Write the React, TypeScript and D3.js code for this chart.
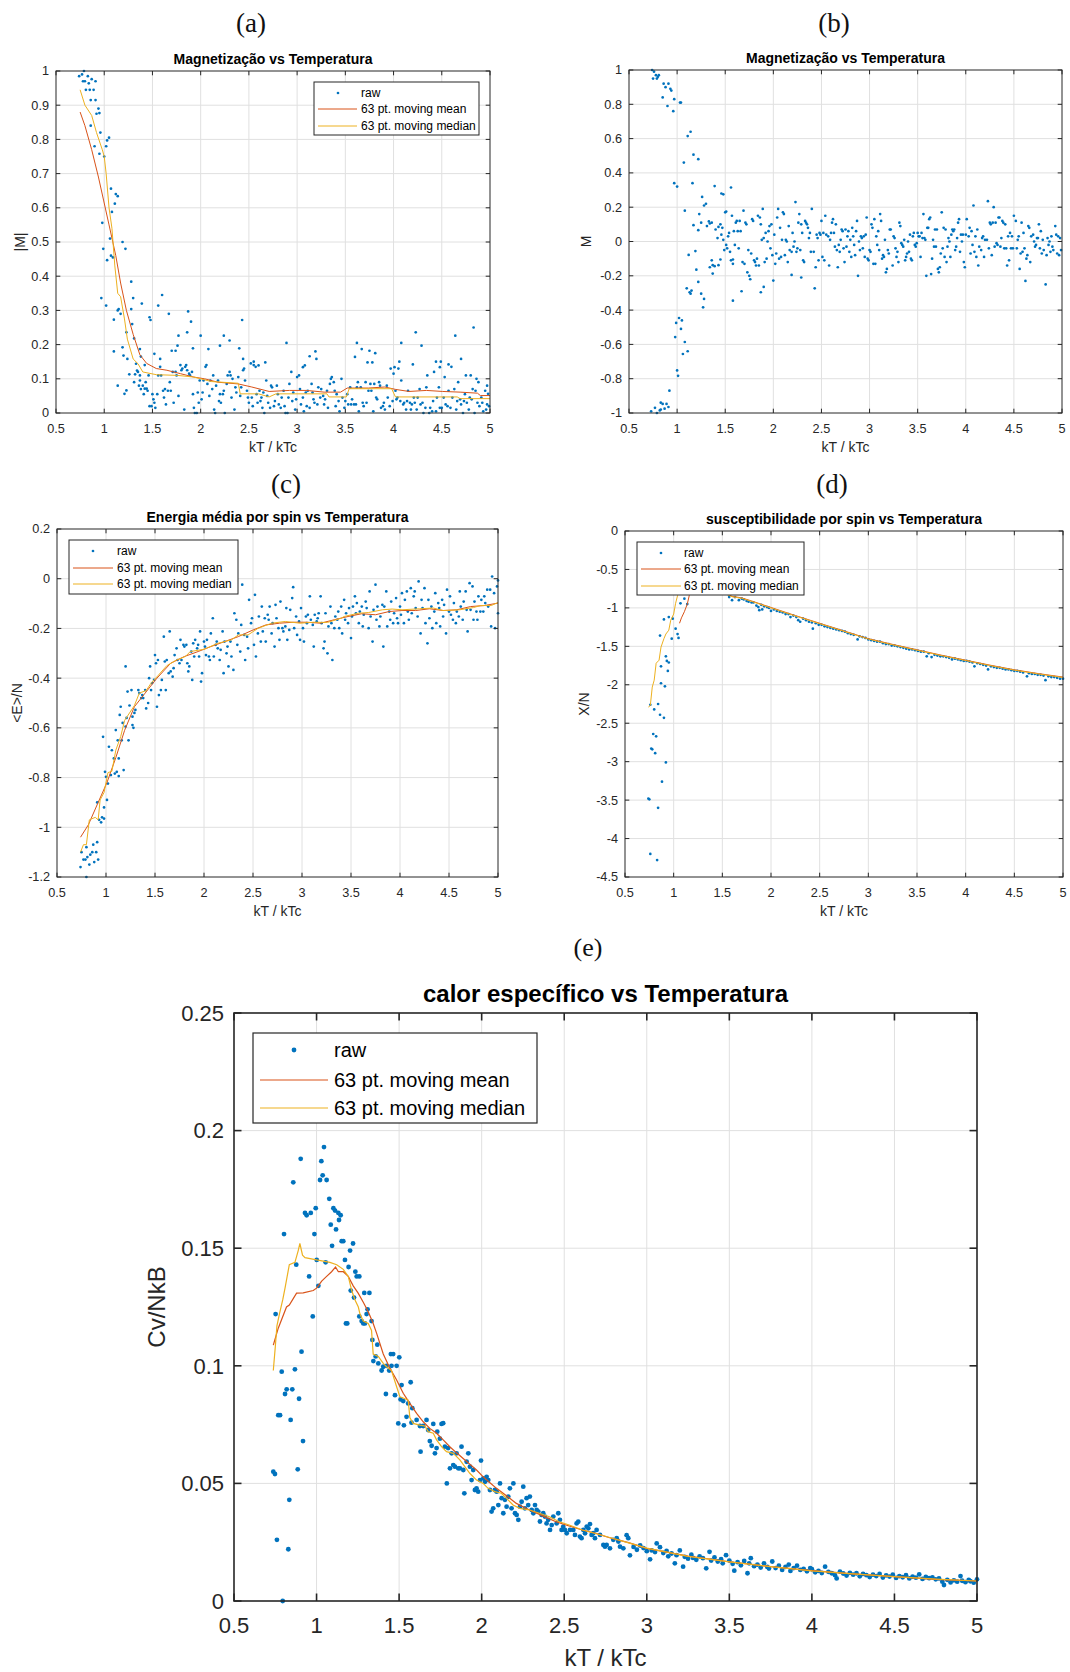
import React from 'react';
import * as d3 from 'd3';

type Pt = [number, number];

// ---------- shared ----------
const tempTicks = [0.5, 1, 1.5, 2, 2.5, 3, 3.5, 4, 4.5, 5];
const legendLabels = ['raw', '63 pt. moving mean', '63 pt. moving median'];

// ---------- (a) |M| ----------
const absMagTicks = [0, 0.1, 0.2, 0.3, 0.4, 0.5, 0.6, 0.7, 0.8, 0.9, 1];
const absMagRaw: Pt[] = [
  [0.74, 0.985], [0.77, 0.99], [0.79, 1.0], [0.83, 0.985], [0.78, 0.97], [0.8, 0.97], [0.84, 0.964], [0.87, 0.976],
  [0.91, 0.97], [0.81, 0.945], [0.85, 0.945], [0.89, 0.945], [0.86, 0.915], [0.91, 0.915], [0.94, 0.89], [0.92, 0.875],
  [0.95, 0.877], [0.86, 0.84], [0.96, 0.82], [0.9, 0.78], [1.02, 0.78], [1.05, 0.805], [1.03, 0.797], [0.95, 0.758],
  [1.0, 0.75], [1.07, 0.656], [1.12, 0.64], [1.14, 0.634], [1.11, 0.612], [1.08, 0.588], [0.98, 0.556], [1.06, 0.51],
  [1.19, 0.5], [1.22, 0.48], [0.99, 0.48], [1.07, 0.46], [1.09, 0.455], [1.03, 0.447], [1.28, 0.384], [0.97, 0.336],
  [1.3, 0.336], [1.02, 0.314], [1.39, 0.32], [1.14, 0.3], [1.15, 0.304], [1.17, 0.29], [1.28, 0.304], [1.1, 0.273],
  [1.29, 0.26], [1.23, 0.236], [1.31, 0.218], [1.19, 0.192], [1.1, 0.18], [1.37, 0.187],
  [1.14, 0.08], [1.2, 0.168], [1.21, 0.056], [1.23, 0.066], [1.24, 0.158], [1.26, 0.113], [1.31, 0.09], [1.32, 0.113],
  [1.33, 0.144], [1.34, 0.124], [1.37, 0.11], [1.38, 0.165], [1.4, 0.08], [1.42, 0.071], [1.44, 0.071], [1.37, 0.095],
  [1.36, 0.08],
  [1.47, 0.28], [1.48, 0.272], [1.56, 0.314], [1.6, 0.345], [1.67, 0.29], [1.52, 0.173], [1.58, 0.158], [1.77, 0.226],
  [1.86, 0.236], [1.87, 0.297], [1.9, 0.267], [2.0, 0.226], [2.08, 0.187], [2.24, 0.226], [2.3, 0.212], [2.2, 0.197],
  [1.92, 0.189], [1.7, 0.182], [1.74, 0.182], [1.76, 0.197], [2.43, 0.272], [2.4, 0.189], [2.44, 0.158], [2.55, 0.15],
  [2.6, 0.139], [2.67, 0.148], [2.89, 0.205], [3.06, 0.134], [3.08, 0.139], [3.13, 0.166], [3.19, 0.18], [3.2, 0.158],
  [3.62, 0.205], [3.67, 0.187], [3.75, 0.182], [3.81, 0.175], [3.6, 0.164], [3.73, 0.148], [3.78, 0.148], [4.08, 0.205],
  [4.23, 0.236], [4.29, 0.197], [4.2, 0.142], [4.06, 0.15], [4.01, 0.134], [4.44, 0.15], [4.49, 0.15], [4.48, 0.134],
  [4.57, 0.142], [4.64, 0.226], [4.7, 0.158], [4.83, 0.25], [4.75, 0.11], [4.8, 0.11], [4.86, 0.1], [4.97, 0.08],
  [4.98, 0.056],
  [1.35, 0.12], [1.38, 0.07], [1.41, 0.055], [1.42, 0.14], [1.43, 0.09], [1.45, 0.065], [1.46, 0.11], [1.47, 0.02],
  [1.49, 0.02], [1.5, 0.055], [1.51, 0.04], [1.52, 0.03], [1.53, 0.015], [1.55, 0.055], [1.56, 0.11], [1.58, 0.135],
  [1.59, 0.11], [1.61, 0.065], [1.62, 0.045], [1.63, 0.07], [1.64, 0.025], [1.66, 0.065], [1.68, 0.09], [1.69, 0.065],
  [1.71, 0.12], [1.72, 0.03], [1.74, 0.12], [1.75, 0.11], [1.77, 0.05], [1.79, 0.14], [1.8, 0.125], [1.81, 0.13],
  [1.83, 0.01], [1.84, 0.135], [1.85, 0.14], [1.86, 0.125], [1.88, 0.115], [1.89, 0.11], [1.91, 0.12], [1.92, 0.055],
  [1.93, 0.015], [1.94, 0.0], [1.96, 0.0], [1.97, 0.06], [1.98, 0.03], [1.99, 0.095], [2.01, 0.04], [2.02, 0.06],
  [2.03, 0.095], [2.05, 0.135], [2.06, 0.14], [2.07, 0.085], [2.09, 0.05], [2.1, 0.095], [2.12, 0.07], [2.13, 0.11],
  [2.14, 0.01], [2.15, 0.0], [2.16, 0.08], [2.18, 0.095], [2.19, 0.035], [2.2, 0.055], [2.21, 0.03], [2.23, 0.055],
  [2.24, 0.065], [2.25, 0.0], [2.27, 0.085], [2.28, 0.11], [2.3, 0.12], [2.31, 0.11], [2.32, 0.045], [2.33, 0.1],
  [2.35, 0.01], [2.36, 0.075], [2.37, 0.06], [2.39, 0.105], [2.41, 0.05], [2.42, 0.075], [2.44, 0.125], [2.45, 0.13],
  [2.46, 0.095], [2.48, 0.065], [2.49, 0.045], [2.5, 0.03], [2.52, 0.145], [2.53, 0.045], [2.54, 0.02], [2.55, 0.14],
  [2.57, 0.135], [2.58, 0.055], [2.59, 0.03], [2.61, 0.065], [2.62, 0.035], [2.63, 0.045], [2.64, 0.015], [2.65, 0.06],
  [2.66, 0.0], [2.68, 0.095], [2.69, 0.05], [2.7, 0.03], [2.72, 0.015], [2.73, 0.08], [2.74, 0.075], [2.76, 0.02],
  [2.77, 0.035], [2.79, 0.08], [2.8, 0.055], [2.81, 0.025], [2.83, 0.015], [2.84, 0.045], [2.86, 0.065], [2.87, 0.02],
  [2.88, 0.0], [2.9, 0.0], [2.91, 0.045], [2.92, 0.085], [2.94, 0.12], [2.95, 0.035], [2.96, 0.06], [2.98, 0.01],
  [2.99, 0.04], [3.0, 0.105], [3.02, 0.11], [3.03, 0.07], [3.04, 0.025], [3.06, 0.045], [3.07, 0.005], [3.09, 0.06],
  [3.1, 0.02], [3.11, 0.065], [3.13, 0.015], [3.15, 0.085], [3.16, 0.06], [3.17, 0.04], [3.18, 0.03], [3.21, 0.025],
  [3.22, 0.075], [3.24, 0.045], [3.25, 0.07], [3.27, 0.05], [3.28, 0.025], [3.29, 0.04], [3.31, 0.065], [3.32, 0.015],
  [3.34, 0.085], [3.35, 0.1], [3.36, 0.105], [3.38, 0.09], [3.39, 0.065], [3.4, 0.02], [3.41, 0.055], [3.43, 0.035],
  [3.44, 0.005], [3.46, 0.1], [3.47, 0.045], [3.49, 0.015], [3.5, 0.035], [3.52, 0.055], [3.53, 0.025], [3.55, 0.075],
  [3.56, 0.025], [3.57, 0.04], [3.59, 0.025], [3.61, 0.025], [3.62, 0.075], [3.63, 0.09], [3.64, 0.005], [3.66, 0.075],
  [3.68, 0.03], [3.69, 0.02], [3.71, 0.09], [3.72, 0.03], [3.74, 0.065], [3.76, 0.085], [3.77, 0.065], [3.79, 0.005],
  [3.8, 0.085], [3.82, 0.045], [3.83, 0.04], [3.85, 0.09], [3.86, 0.08], [3.87, 0.015], [3.89, 0.02], [3.9, 0.03],
  [3.91, 0.01], [3.93, 0.08], [3.94, 0.045], [3.96, 0.02], [3.97, 0.13], [3.99, 0.035], [4.0, 0.115], [4.02, 0.065],
  [4.03, 0.04], [4.04, 0.045], [4.05, 0.13], [4.07, 0.035], [4.08, 0.095], [4.1, 0.025], [4.11, 0.03], [4.13, 0.01],
  [4.14, 0.035], [4.15, 0.065], [4.17, 0.03], [4.18, 0.01], [4.19, 0.025], [4.21, 0.045], [4.22, 0.03], [4.24, 0.01],
  [4.25, 0.045], [4.27, 0.07], [4.28, 0.025], [4.3, 0.03], [4.31, 0.0], [4.33, 0.015], [4.34, 0.075], [4.35, 0.11],
  [4.37, 0.0], [4.38, 0.015], [4.4, 0.005], [4.41, 0.035], [4.42, 0.12], [4.44, 0.005], [4.45, 0.045], [4.47, 0.075],
  [4.48, 0.015], [4.5, 0.015], [4.52, 0.045], [4.53, 0.105], [4.54, 0.025], [4.56, 0.02], [4.57, 0.065], [4.59, 0.015],
  [4.6, 0.135], [4.61, 0.045], [4.63, 0.07], [4.65, 0.01], [4.66, 0.035], [4.67, 0.09], [4.69, 0.04], [4.7, 0.025],
  [4.72, 0.0], [4.73, 0.035], [4.74, 0.055], [4.76, 0.03], [4.78, 0.01], [4.79, 0.045], [4.81, 0.04], [4.82, 0.07],
  [4.84, 0.0], [4.85, 0.065], [4.87, 0.03], [4.88, 0.09], [4.89, 0.02], [4.91, 0.045], [4.92, 0.03], [4.93, 0.005],
  [4.95, 0.065], [4.96, 0.01], [4.97, 0.025], [4.99, 0.02],
];
const absMagMean: Pt[] = [
  [0.75, 0.88], [0.8, 0.84], [0.87, 0.77], [0.94, 0.69], [0.995, 0.62], [1.05, 0.55], [1.12, 0.46], [1.17, 0.38],
  [1.23, 0.3], [1.3, 0.23], [1.37, 0.17], [1.44, 0.145], [1.54, 0.13], [1.65, 0.125], [1.79, 0.115], [1.93, 0.105],
  [2.04, 0.1], [2.18, 0.09], [2.39, 0.085], [2.53, 0.076], [2.71, 0.063], [2.92, 0.066], [3.1, 0.066], [3.28, 0.061],
  [3.45, 0.061], [3.52, 0.073], [3.74, 0.073], [3.91, 0.076], [4.02, 0.069], [4.16, 0.063], [4.34, 0.066], [4.51, 0.063],
  [4.69, 0.061], [4.87, 0.058], [4.9, 0.051], [5.0, 0.051],
];
const absMagMedian: Pt[] = [
  [0.75, 0.945], [0.8, 0.9], [0.87, 0.87], [0.92, 0.82], [0.98, 0.77], [1.0, 0.75], [1.02, 0.7], [1.05, 0.6],
  [1.08, 0.54], [1.11, 0.43], [1.14, 0.35], [1.17, 0.34], [1.21, 0.275], [1.24, 0.216], [1.3, 0.158], [1.35, 0.144],
  [1.4, 0.12], [1.54, 0.112], [1.76, 0.11], [1.93, 0.105], [2.11, 0.092], [2.39, 0.087], [2.41, 0.056], [2.6, 0.056],
  [2.71, 0.047], [2.78, 0.056], [3.31, 0.056], [3.33, 0.047], [3.51, 0.047], [3.54, 0.071], [3.98, 0.071], [4.02, 0.047],
  [4.66, 0.047], [4.69, 0.042], [5.0, 0.042],
];

// ---------- (b) M ----------
const magTicks = [-1, -0.8, -0.6, -0.4, -0.2, 0, 0.2, 0.4, 0.6, 0.8, 1];
const magRaw: Pt[] = [
  [0.74, 1.0], [0.76, 0.99], [0.75, 0.95], [0.78, 0.97], [0.8, 0.96], [0.81, 0.97], [0.79, 0.95], [0.86, 0.92],
  [0.91, 0.92], [0.88, 0.9], [0.93, 0.89], [0.94, 0.88], [0.85, 0.84], [0.97, 0.83], [0.9, 0.79], [0.96, 0.76],
  [1.03, 0.81], [1.04, 0.81], [0.97, 0.34], [1.0, 0.32], [1.07, 0.46], [1.08, 0.18], [1.11, 0.615], [1.14, 0.64],
  [1.17, 0.506], [1.22, 0.48], [1.16, 0.34], [1.17, 0.095], [1.23, 0.16], [1.22, 0.066], [1.25, 0.11], [1.26, 0.26],
  [1.28, 0.21], [1.3, 0.22], [1.33, 0.117], [1.34, 0.105], [1.39, 0.323], [1.46, 0.28], [1.48, 0.275], [1.56, 0.315],
  [1.51, 0.175], [1.42, 0.02], [1.31, 0.09], [1.36, 0.11], [1.4, 0.07], [1.43, 0.085],
  [1.12, -0.078], [1.19, -0.056], [1.2, -0.164], [1.22, -0.236], [1.1, -0.273], [1.13, -0.296], [1.14, -0.304],
  [1.15, -0.286], [1.25, -0.304], [1.28, -0.335], [1.27, -0.384], [1.34, -0.15], [1.36, -0.11], [1.37, -0.138],
  [1.39, -0.144], [1.37, -0.187], [1.43, -0.138], [1.45, -0.105], [1.58, -0.105], [1.58, -0.345], [1.67, -0.29],
  [1.87, -0.296], [1.9, -0.265], [2.0, -0.228], [2.19, -0.195], [2.29, -0.21], [2.43, -0.273], [2.88, -0.2],
  [0.73, -0.99], [0.77, -0.97], [0.79, -1.0], [0.82, -0.985], [0.83, -0.98], [0.83, -0.94], [0.85, -0.947],
  [0.87, -0.975], [0.89, -0.947], [0.91, -0.965], [0.92, -0.87], [0.98, -0.557], [0.99, -0.475], [1.02, -0.446],
  [1.05, -0.46], [1.04, -0.51], [1.08, -0.586], [1.11, -0.64], [1.06, -0.656], [1.0, -0.752], [1.01, -0.783],
  [1.45, 0.1], [1.46, 0.04], [1.47, 0.08], [1.48, 0.01], [1.49, -0.05], [1.5, 0.17], [1.51, -0.02], [1.52, -0.04],
  [1.53, 0.03], [1.54, 0.05], [1.55, -0.06], [1.56, -0.11], [1.57, 0.15], [1.58, -0.13], [1.59, 0.06], [1.6, -0.02],
  [1.61, 0.11], [1.62, 0.12], [1.63, 0.06], [1.64, -0.04], [1.65, 0.12], [1.66, 0.06], [1.68, -0.12], [1.69, 0.18],
  [1.7, -0.13], [1.71, 0.11], [1.72, 0.1], [1.73, -0.18], [1.74, -0.05], [1.75, -0.2], [1.76, -0.22], [1.77, -0.07],
  [1.78, 0.13], [1.79, 0.12], [1.8, -0.11], [1.81, -0.12], [1.82, -0.14], [1.83, -0.1], [1.84, 0.15], [1.85, -0.14],
  [1.86, 0.14], [1.87, 0.1], [1.88, 0.01], [1.89, 0.19], [1.9, 0.02], [1.91, -0.12], [1.92, 0.05], [1.93, -0.1],
  [1.94, 0.0], [1.95, 0.06], [1.96, 0.09], [1.97, -0.04], [1.98, 0.1], [1.99, -0.08], [2.01, 0.04], [2.02, -0.13],
  [2.03, -0.07], [2.04, 0.14], [2.05, 0.19], [2.06, -0.1], [2.07, 0.08], [2.08, -0.09], [2.09, 0.01], [2.1, 0.17],
  [2.11, 0.16], [2.12, -0.08], [2.13, 0.01], [2.14, 0.0], [2.15, -0.12], [2.16, 0.09], [2.17, -0.05], [2.19, -0.06],
  [2.2, 0.05], [2.21, -0.03], [2.22, 0.0], [2.23, 0.23], [2.24, -0.06], [2.25, -0.04], [2.26, 0.11], [2.27, 0.16],
  [2.28, -0.05], [2.29, 0.1], [2.3, 0.05], [2.31, -0.11], [2.32, -0.12], [2.33, 0.12], [2.34, 0.11], [2.35, 0.1],
  [2.36, 0.08], [2.37, 0.02], [2.38, 0.05], [2.39, -0.06], [2.4, 0.19], [2.42, -0.06], [2.44, -0.15], [2.45, 0.04],
  [2.46, 0.02], [2.47, -0.11], [2.48, 0.05], [2.49, 0.04], [2.5, 0.12], [2.51, -0.09], [2.52, 0.05], [2.53, -0.11],
  [2.54, 0.15], [2.55, 0.04], [2.57, 0.03], [2.58, -0.14], [2.59, 0.01], [2.6, 0.05], [2.61, 0.11], [2.62, 0.13],
  [2.63, 0.05], [2.64, -0.03], [2.65, 0.1], [2.66, -0.05], [2.67, -0.15], [2.68, -0.02], [2.69, -0.06], [2.7, 0.01],
  [2.71, 0.07], [2.72, 0.06], [2.73, -0.04], [2.74, -0.12], [2.75, 0.07], [2.76, -0.03], [2.77, 0.03], [2.78, 0.06],
  [2.79, -0.06], [2.8, 0.01], [2.81, -0.09], [2.82, 0.08], [2.83, 0.03], [2.84, -0.02], [2.85, -0.08], [2.86, 0.06],
  [2.87, 0.12], [2.89, 0.0], [2.9, -0.05], [2.91, 0.03], [2.92, 0.02], [2.93, -0.04], [2.94, 0.03], [2.95, -0.09],
  [2.96, 0.04], [2.97, 0.14], [2.98, -0.1], [2.99, -0.11], [3.0, -0.05], [3.01, -0.06], [3.02, 0.1], [3.03, 0.08],
  [3.04, -0.13], [3.05, 0.13], [3.06, -0.13], [3.07, 0.03], [3.08, -0.02], [3.09, 0.06], [3.1, -0.05], [3.11, 0.16],
  [3.12, 0.12], [3.13, -0.1], [3.14, -0.08], [3.15, -0.09], [3.16, 0.01], [3.17, -0.18], [3.18, -0.16], [3.19, -0.05],
  [3.2, -0.07], [3.21, 0.07], [3.22, 0.07], [3.24, -0.14], [3.25, 0.03], [3.26, 0.02], [3.27, -0.04], [3.28, -0.09],
  [3.29, -0.06], [3.3, -0.12], [3.31, 0.11], [3.32, 0.09], [3.33, -0.01], [3.34, -0.02], [3.35, -0.03], [3.36, 0.01],
  [3.37, -0.11], [3.38, -0.09], [3.39, -0.07], [3.4, 0.0], [3.41, -0.06], [3.42, 0.04], [3.43, -0.1], [3.44, -0.11],
  [3.45, 0.03], [3.46, 0.05], [3.47, -0.02], [3.48, -0.03], [3.49, -0.01], [3.5, 0.05], [3.51, 0.03], [3.52, 0.03],
  [3.53, -0.09], [3.54, 0.05], [3.55, 0.02], [3.56, 0.16], [3.57, 0.02], [3.58, 0.01], [3.59, -0.2], [3.6, 0.08],
  [3.61, 0.08], [3.62, 0.13], [3.63, 0.14], [3.64, -0.19], [3.65, -0.1], [3.66, 0.01], [3.67, -0.03], [3.68, 0.07],
  [3.69, -0.03], [3.7, 0.07], [3.71, -0.16], [3.72, -0.18], [3.73, -0.15], [3.74, -0.07], [3.75, 0.17], [3.76, -0.04],
  [3.77, 0.08], [3.78, -0.09], [3.79, 0.07], [3.8, -0.12], [3.81, -0.03], [3.82, 0.02], [3.83, 0.0], [3.84, -0.09],
  [3.85, 0.04], [3.86, 0.07], [3.87, 0.06], [3.88, 0.07], [3.89, -0.05], [3.9, -0.03], [3.91, 0.02], [3.92, 0.11],
  [3.93, 0.13], [3.94, -0.06], [3.95, 0.04], [3.96, 0.0], [3.97, 0.04], [3.98, -0.12], [3.99, -0.15], [4.0, 0.04],
  [4.01, 0.13], [4.03, 0.03], [4.04, 0.08], [4.05, -0.07], [4.06, 0.06], [4.07, -0.02], [4.08, 0.21], [4.09, -0.06],
  [4.1, 0.03], [4.11, -0.09], [4.12, 0.07], [4.13, -0.14], [4.14, -0.03], [4.16, -0.05], [4.17, 0.02], [4.18, 0.03],
  [4.19, -0.09], [4.2, 0.01], [4.22, 0.01], [4.23, 0.235], [4.24, -0.04], [4.25, 0.11], [4.26, 0.1], [4.27, -0.08],
  [4.28, 0.11], [4.29, 0.2], [4.3, -0.03], [4.31, 0.11], [4.32, -0.01], [4.33, -0.02], [4.34, 0.14], [4.35, 0.14],
  [4.36, -0.03], [4.37, 0.02], [4.38, 0.12], [4.39, 0.11], [4.4, -0.04], [4.41, 0.1], [4.42, -0.04], [4.43, -0.14],
  [4.44, 0.03], [4.45, -0.11], [4.46, 0.05], [4.47, -0.04], [4.48, 0.03], [4.49, -0.04], [4.5, 0.15], [4.52, 0.12],
  [4.53, -0.04], [4.54, 0.01], [4.55, 0.03], [4.56, -0.16], [4.57, -0.07], [4.58, 0.11], [4.59, -0.06], [4.6, 0.05],
  [4.61, -0.04], [4.62, -0.23], [4.63, -0.1], [4.64, -0.08], [4.65, 0.09], [4.66, 0.08], [4.67, -0.12], [4.68, 0.03],
  [4.7, 0.04], [4.71, 0.0], [4.72, -0.03], [4.73, -0.02], [4.74, 0.02], [4.75, 0.02], [4.76, 0.1], [4.77, -0.04],
  [4.78, 0.06], [4.79, -0.07], [4.8, 0.01], [4.81, -0.05], [4.83, -0.25], [4.84, -0.08], [4.85, 0.02], [4.86, -0.02],
  [4.87, 0.0], [4.88, -0.06], [4.89, 0.03], [4.9, -0.03], [4.91, -0.05], [4.93, 0.09], [4.94, 0.04], [4.95, -0.07],
  [4.96, 0.03], [4.97, -0.08], [4.98, 0.02], [4.99, -0.05],
];

// ---------- (c) <E>/N ----------
const energyTicks = [-1.2, -1, -0.8, -0.6, -0.4, -0.2, 0, 0.2];
const energyRaw: Pt[] = [
  [0.74, -1.16], [0.75, -1.1], [0.77, -1.13], [0.79, -1.13], [0.8, -1.2], [0.8, -1.08], [0.81, -1.12], [0.83, -1.15],
  [0.84, -1.11], [0.86, -1.1], [0.87, -1.07], [0.88, -1.14], [0.9, -1.1], [0.91, -1.06], [0.92, -1.13], [0.91, -0.9],
  [0.93, -0.97], [0.95, -0.98], [0.96, -0.96], [0.98, -0.92], [0.98, -0.965], [0.97, -0.636], [0.99, -0.777],
  [1.0, -0.797], [1.01, -0.89], [1.02, -0.824], [1.03, -0.676], [1.05, -0.79], [1.06, -0.69], [1.08, -0.723],
  [1.09, -0.784], [1.1, -0.609], [1.11, -0.777], [1.12, -0.65], [1.13, -0.794], [1.13, -0.723], [1.14, -0.548],
  [1.15, -0.515], [1.16, -0.65], [1.17, -0.58], [1.18, -0.77], [1.2, -0.353], [1.2, -0.595], [1.21, -0.56],
  [1.22, -0.454], [1.23, -0.65], [1.24, -0.51], [1.26, -0.448], [1.27, -0.589], [1.27, -0.555], [1.28, -0.6],
  [1.29, -0.54], [1.3, -0.528], [1.33, -0.448], [1.34, -0.46], [1.36, -0.48], [1.37, -0.468], [1.38, -0.48],
  [1.4, -0.448], [1.41, -0.522], [1.43, -0.5], [1.44, -0.4], [1.45, -0.353], [1.46, -0.448], [1.47, -0.42],
  [1.49, -0.407], [1.5, -0.307], [1.51, -0.34], [1.52, -0.515], [1.53, -0.327], [1.54, -0.468], [1.56, -0.448],
  [1.57, -0.407], [1.59, -0.233], [1.6, -0.333], [1.61, -0.448], [1.62, -0.327], [1.64, -0.38], [1.65, -0.212],
  [1.66, -0.373], [1.68, -0.394], [1.69, -0.36], [1.7, -0.307], [1.72, -0.28], [1.73, -0.327], [1.75, -0.34],
  [1.76, -0.246], [1.77, -0.327], [1.79, -0.266], [1.8, -0.273], [1.82, -0.266], [1.83, -0.34], [1.84, -0.373],
  [1.85, -0.353], [1.87, -0.293], [1.88, -0.407], [1.89, -0.26], [1.9, -0.313], [1.91, -0.246], [1.93, -0.28],
  [1.94, -0.266], [1.95, -0.313], [1.96, -0.212], [1.97, -0.414], [1.98, -0.38], [2.0, -0.253], [2.01, -0.273],
  [2.02, -0.307], [2.03, -0.246], [2.05, -0.313], [2.06, -0.327], [2.07, -0.22], [2.09, -0.159], [2.1, -0.313],
  [2.12, -0.266], [2.13, -0.253], [2.14, -0.28], [2.16, -0.327], [2.17, -0.286], [2.19, -0.212], [2.2, -0.38],
  [2.21, -0.253], [2.23, -0.3], [2.24, -0.273], [2.25, -0.353], [2.27, -0.253], [2.28, -0.313], [2.3, -0.367],
  [2.31, -0.139], [2.33, -0.165], [2.34, -0.266], [2.35, -0.22], [2.37, -0.293], [2.38, -0.186], [2.39, -0.024],
  [2.41, -0.226], [2.42, -0.327], [2.44, -0.233], [2.45, -0.28], [2.46, -0.085], [2.48, -0.179], [2.49, -0.159],
  [2.51, -0.266], [2.52, -0.065], [2.53, -0.313], [2.55, -0.22], [2.56, -0.152], [2.58, -0.253], [2.59, -0.112],
  [2.6, -0.212], [2.62, -0.159], [2.63, -0.253], [2.65, -0.145], [2.66, -0.165], [2.67, -0.112], [2.69, -0.22],
  [2.7, -0.179], [2.72, -0.273], [2.73, -0.105], [2.74, -0.159], [2.76, -0.199], [2.77, -0.246], [2.78, -0.092],
  [2.8, -0.199], [2.81, -0.212], [2.83, -0.192], [2.84, -0.118], [2.85, -0.246], [2.87, -0.206], [2.88, -0.125],
  [2.9, -0.078], [2.91, -0.034], [2.92, -0.199], [2.94, -0.152], [2.95, -0.226], [2.97, -0.172], [2.98, -0.246],
  [2.99, -0.118], [3.01, -0.199], [3.02, -0.253], [3.04, -0.152], [3.05, -0.179], [3.06, -0.145], [3.08, -0.071],
  [3.09, -0.165], [3.11, -0.186], [3.12, -0.273], [3.13, -0.145], [3.15, -0.172], [3.16, -0.159], [3.17, -0.139],
  [3.19, -0.071], [3.2, -0.179], [3.22, -0.28], [3.23, -0.253], [3.24, -0.139], [3.26, -0.3], [3.27, -0.192],
  [3.29, -0.112], [3.3, -0.179], [3.31, -0.327], [3.33, -0.199], [3.34, -0.152], [3.36, -0.165], [3.37, -0.132],
  [3.38, -0.199], [3.4, -0.112], [3.41, -0.22], [3.43, -0.085], [3.44, -0.165], [3.45, -0.139], [3.47, -0.179],
  [3.48, -0.118], [3.5, -0.239], [3.51, -0.152], [3.52, -0.112], [3.54, -0.071], [3.55, -0.139], [3.56, -0.098],
  [3.58, -0.179], [3.59, -0.132], [3.61, -0.112], [3.62, -0.192], [3.63, -0.145], [3.65, -0.092], [3.66, -0.118],
  [3.68, -0.199], [3.69, -0.051], [3.7, -0.152], [3.72, -0.253], [3.73, -0.125], [3.75, -0.024], [3.76, -0.165],
  [3.77, -0.112], [3.79, -0.192], [3.8, -0.152], [3.82, -0.105], [3.83, -0.273], [3.84, -0.112], [3.86, -0.051],
  [3.87, -0.192], [3.89, -0.132], [3.9, -0.165], [3.91, -0.092], [3.93, -0.179], [3.94, -0.139], [3.96, -0.078],
  [3.97, -0.159], [3.98, -0.179], [4.0, -0.112], [4.01, -0.145], [4.02, -0.058], [4.04, -0.179], [4.05, -0.085],
  [4.07, -0.051], [4.08, -0.132], [4.09, -0.165], [4.11, -0.038], [4.12, -0.139], [4.14, -0.071], [4.15, -0.051],
  [4.16, -0.118], [4.18, -0.152], [4.19, -0.011], [4.21, -0.22], [4.22, -0.085], [4.23, -0.118], [4.25, -0.038],
  [4.26, -0.179], [4.28, -0.26], [4.29, -0.085], [4.3, -0.159], [4.32, -0.112], [4.33, -0.199], [4.35, -0.132],
  [4.36, -0.058], [4.37, -0.179], [4.39, -0.098], [4.4, -0.118], [4.41, -0.192], [4.43, -0.085], [4.44, -0.152],
  [4.45, -0.105], [4.47, -0.22], [4.48, -0.044], [4.5, -0.132], [4.51, -0.071], [4.52, -0.145], [4.54, -0.165],
  [4.55, -0.098], [4.57, -0.179], [4.58, -0.132], [4.6, -0.152], [4.61, -0.051], [4.62, -0.112], [4.64, -0.165],
  [4.65, -0.092], [4.67, -0.051], [4.68, -0.125], [4.69, -0.212], [4.71, -0.018], [4.72, -0.125], [4.74, -0.031],
  [4.75, -0.165], [4.76, -0.092], [4.78, -0.132], [4.79, -0.165], [4.8, -0.071], [4.82, -0.132], [4.83, -0.085],
  [4.85, -0.132], [4.86, -0.071], [4.87, -0.098], [4.89, -0.044], [4.9, -0.112], [4.92, -0.044], [4.93, -0.192],
  [4.94, 0.009], [4.96, -0.058], [4.97, -0.199], [4.99, -0.031], [5.0, -0.007], [5.0, -0.139],
];
const energyMean: Pt[] = [
  [0.74, -1.04], [0.82, -0.99], [0.92, -0.9], [1.01, -0.82], [1.1, -0.72], [1.19, -0.61], [1.29, -0.515], [1.4, -0.46],
  [1.52, -0.4], [1.66, -0.34], [1.8, -0.313], [1.94, -0.293], [2.07, -0.273], [2.21, -0.253], [2.35, -0.233],
  [2.49, -0.208], [2.63, -0.186], [2.77, -0.179], [2.91, -0.175], [3.05, -0.175], [3.19, -0.179], [3.33, -0.165],
  [3.47, -0.152], [3.61, -0.141], [3.75, -0.145], [3.89, -0.132], [4.02, -0.128], [4.16, -0.128], [4.3, -0.121],
  [4.44, -0.128], [4.58, -0.125], [4.72, -0.112], [4.86, -0.108], [5.0, -0.098],
];
const energyMedian: Pt[] = [
  [0.74, -1.1], [0.77, -1.07], [0.8, -1.07], [0.83, -0.97], [0.89, -0.96], [0.92, -0.97], [0.94, -0.89], [0.98, -0.86],
  [1.02, -0.78], [1.06, -0.775], [1.1, -0.69], [1.15, -0.635], [1.19, -0.57], [1.24, -0.54], [1.29, -0.51], [1.34, -0.46],
  [1.41, -0.45], [1.46, -0.42], [1.53, -0.39], [1.62, -0.35], [1.72, -0.327], [1.81, -0.313], [1.86, -0.293],
  [2.0, -0.284], [2.14, -0.26], [2.28, -0.246], [2.35, -0.226], [2.45, -0.226], [2.55, -0.2], [2.69, -0.179],
  [2.83, -0.172], [2.98, -0.179], [3.12, -0.175], [3.26, -0.176], [3.4, -0.159], [3.43, -0.152], [3.57, -0.139],
  [3.68, -0.136], [3.82, -0.125], [3.92, -0.122], [4.02, -0.125], [4.2, -0.121], [4.34, -0.118], [4.44, -0.128],
  [4.61, -0.125], [4.75, -0.116], [4.82, -0.108], [4.93, -0.108], [5.0, -0.096],
];

// ---------- (d) X/N ----------
const suscTicks = [-4.5, -4, -3.5, -3, -2.5, -2, -1.5, -1, -0.5, 0];
const suscRaw: Pt[] = [
  [0.74, -3.48], [0.75, -3.49], [0.76, -4.2], [0.83, -4.28], [0.77, -2.83], [0.78, -2.84], [0.79, -2.64], [0.82, -2.67],
  [0.81, -2.89], [0.8, -2.32], [0.76, -2.26], [0.84, -2.25], [0.86, -2.39], [0.9, -2.43], [0.87, -1.98], [0.91, -2.02],
  [0.84, -3.6], [0.88, -3.26], [0.92, -3.01], [0.87, -1.76], [0.92, -1.63], [0.93, -1.69], [0.95, -1.71], [0.94, -1.82],
  [0.86, -1.36], [0.9, -1.15], [0.95, -1.12], [0.99, -1.14], [0.98, -1.4], [1.02, -1.27], [1.04, -1.34], [1.05, -1.39],
  [1.07, -0.94], [1.11, -0.88], [1.14, -0.95],
  [1.57, -0.86], [1.6, -0.9], [1.63, -0.86], [1.67, -0.9], [1.7, -0.88], [1.72, -0.89], [1.75, -0.91], [1.77, -0.92],
  [1.8, -0.93], [1.82, -0.93], [1.85, -0.97], [1.87, -0.99], [1.88, -1.03], [1.9, -0.96], [1.91, -1.02], [1.93, -0.98],
  [1.96, -0.99], [1.98, -1.0], [2.0, -1.04], [2.03, -1.02], [2.06, -1.04], [2.09, -1.05], [2.12, -1.06], [2.15, -1.08],
  [2.18, -1.08], [2.2, -1.12], [2.23, -1.1], [2.26, -1.12], [2.28, -1.16], [2.3, -1.18], [2.33, -1.14], [2.36, -1.16],
  [2.39, -1.18], [2.42, -1.19], [2.43, -1.27], [2.46, -1.2], [2.49, -1.22], [2.52, -1.22], [2.55, -1.24], [2.58, -1.25],
  [2.61, -1.26], [2.64, -1.27], [2.67, -1.28], [2.7, -1.29], [2.73, -1.3], [2.76, -1.31], [2.79, -1.33], [2.82, -1.34],
  [2.85, -1.35], [2.89, -1.41], [2.91, -1.37], [2.94, -1.38], [2.97, -1.39], [3.0, -1.41], [3.03, -1.42], [3.06, -1.43],
  [3.09, -1.44], [3.12, -1.44], [3.15, -1.46], [3.18, -1.47], [3.21, -1.47], [3.24, -1.49], [3.27, -1.49], [3.3, -1.5],
  [3.33, -1.51], [3.36, -1.52], [3.39, -1.53], [3.42, -1.54], [3.45, -1.54], [3.48, -1.55], [3.51, -1.56], [3.54, -1.57],
  [3.57, -1.57], [3.6, -1.63], [3.62, -1.59], [3.65, -1.64], [3.68, -1.61], [3.71, -1.62], [3.74, -1.63], [3.77, -1.63],
  [3.8, -1.64], [3.83, -1.65], [3.86, -1.67], [3.89, -1.66], [3.92, -1.67], [3.95, -1.68], [3.98, -1.69], [4.01, -1.69],
  [4.04, -1.7], [4.07, -1.71], [4.09, -1.76], [4.12, -1.72], [4.15, -1.73], [4.18, -1.74], [4.21, -1.75], [4.23, -1.8],
  [4.26, -1.76], [4.29, -1.77], [4.32, -1.78], [4.35, -1.78], [4.38, -1.79], [4.41, -1.8], [4.44, -1.8], [4.47, -1.81],
  [4.5, -1.82], [4.53, -1.82], [4.56, -1.83], [4.59, -1.84], [4.63, -1.89], [4.65, -1.85], [4.68, -1.86], [4.71, -1.86],
  [4.74, -1.87], [4.77, -1.87], [4.8, -1.88], [4.82, -1.94], [4.85, -1.89], [4.88, -1.9], [4.91, -1.9], [4.94, -1.91],
  [4.97, -1.92], [5.0, -1.92],
];
const suscMean: Pt[] = [
  [1.06, -1.2], [1.08, -1.13], [1.11, -1.05], [1.14, -0.95], [1.16, -0.84], [1.2, -0.72], [1.3, -0.66], [1.5, -0.79],
  [1.6, -0.85], [1.7, -0.87], [1.8, -0.91], [2.0, -0.995], [2.25, -1.1], [2.5, -1.2], [2.75, -1.3], [3.0, -1.4],
  [3.25, -1.475], [3.5, -1.545], [3.75, -1.615], [4.0, -1.68], [4.25, -1.745], [4.5, -1.805], [4.75, -1.855], [5.0, -1.9],
];
const suscMedian: Pt[] = [
  [0.74, -2.29], [0.76, -2.27], [0.78, -2.03], [0.8, -1.94], [0.82, -1.72], [0.85, -1.68], [0.87, -1.51], [0.9, -1.4],
  [0.92, -1.34], [0.95, -1.29], [0.97, -1.16], [1.0, -1.08], [1.02, -0.94], [1.04, -0.84], [1.08, -0.7], [1.15, -0.62],
  [1.3, -0.68], [1.5, -0.8], [1.6, -0.855], [1.7, -0.875], [1.8, -0.915], [2.0, -1.0], [2.25, -1.105], [2.5, -1.205],
  [2.75, -1.305], [3.0, -1.405], [3.25, -1.48], [3.5, -1.55], [3.75, -1.62], [4.0, -1.685], [4.25, -1.75], [4.5, -1.81],
  [4.75, -1.86], [5.0, -1.905],
];

// ---------- (e) Cv/NkB ----------
const heatTicks = [0, 0.05, 0.1, 0.15, 0.2, 0.25];
const heatRaw: Pt[] = [
  [0.738, 0.055], [0.748, 0.054], [0.752, 0.122], [0.76, 0.026], [0.768, 0.079], [0.779, 0.079], [0.789, 0.0975],
  [0.795, 0.0], [0.803, 0.156], [0.809, 0.088], [0.819, 0.09], [0.829, 0.022], [0.835, 0.043], [0.843, 0.077],
  [0.853, 0.09], [0.859, 0.178], [0.869, 0.0985], [0.877, 0.143], [0.886, 0.056], [0.894, 0.086], [0.904, 0.188],
  [0.909, 0.106], [0.918, 0.068], [0.93, 0.165], [0.94, 0.164], [0.955, 0.138], [0.965, 0.165], [0.977, 0.121],
  [0.987, 0.156], [0.995, 0.167], [1.001, 0.145], [1.011, 0.134], [1.021, 0.179], [1.029, 0.187], [1.037, 0.181],
  [1.045, 0.193], [1.055, 0.144], [1.061, 0.179], [1.077, 0.171], [1.086, 0.16], [1.094, 0.151], [1.102, 0.167],
  [1.112, 0.166], [1.118, 0.158], [1.132, 0.165], [1.136, 0.162], [1.146, 0.164], [1.152, 0.153], [1.162, 0.153],
  [1.172, 0.145], [1.178, 0.118], [1.186, 0.118], [1.194, 0.142], [1.203, 0.149], [1.207, 0.132], [1.221, 0.152],
  [1.227, 0.129], [1.235, 0.14], [1.243, 0.138], [1.259, 0.138], [1.259, 0.121], [1.273, 0.119], [1.283, 0.118],
  [1.289, 0.131], [1.293, 0.118], [1.303, 0.122], [1.309, 0.124], [1.32, 0.131], [1.333, 0.119], [1.338, 0.111],
  [1.344, 0.102], [1.358, 0.104], [1.368, 0.109], [1.374, 0.101], [1.394, 0.098], [1.404, 0.0996], [1.42, 0.088],
  [1.424, 0.1], [1.44, 0.098], [1.45, 0.105], [1.454, 0.1], [1.464, 0.105], [1.475, 0.0875], [1.485, 0.1],
  [1.495, 0.0755], [1.501, 0.1036], [1.509, 0.0857], [1.515, 0.0918], [1.525, 0.085], [1.529, 0.0747], [1.545, 0.0783],
  [1.555, 0.084], [1.57, 0.093], [1.575, 0.0758], [1.58, 0.082], [1.606, 0.077], [1.626, 0.0744], [1.63, 0.0635],
  [1.646, 0.0744], [1.666, 0.077], [1.676, 0.0727], [1.686, 0.068], [1.697, 0.066], [1.707, 0.0753], [1.717, 0.0628],
  [1.727, 0.065], [1.731, 0.072], [1.747, 0.069], [1.757, 0.0753], [1.767, 0.0756], [1.777, 0.0656], [1.789, 0.05],
  [1.797, 0.065], [1.808, 0.0564], [1.818, 0.0628], [1.828, 0.0578], [1.838, 0.0571], [1.848, 0.0628], [1.858, 0.0564],
  [1.868, 0.0564], [1.878, 0.0656], [1.889, 0.0557], [1.895, 0.0458], [1.909, 0.0592], [1.919, 0.0628], [1.929, 0.0571],
  [1.939, 0.0514], [1.949, 0.0557], [1.959, 0.0472], [1.969, 0.0479], [1.979, 0.0465], [1.99, 0.0514], [1.996, 0.0597],
  [2.01, 0.0521], [2.02, 0.0507], [2.03, 0.0528], [2.04, 0.0514], [2.05, 0.0472], [2.06, 0.038], [2.07, 0.0394],
  [2.08, 0.0472], [2.091, 0.0465], [2.101, 0.0408], [2.111, 0.05], [2.121, 0.0437], [2.131, 0.0373], [2.141, 0.043],
  [2.151, 0.0401], [2.161, 0.0444], [2.171, 0.0479], [2.181, 0.0394], [2.192, 0.05], [2.202, 0.0373], [2.212, 0.0366],
  [2.222, 0.0345], [2.232, 0.0401], [2.242, 0.0422], [2.252, 0.0486], [2.262, 0.0394], [2.272, 0.0437], [2.282, 0.0408],
  [2.292, 0.0444], [2.303, 0.0387], [2.313, 0.0373], [2.323, 0.0408], [2.333, 0.0387], [2.343, 0.038], [2.353, 0.0338],
  [2.363, 0.0366], [2.373, 0.0373], [2.383, 0.0359], [2.393, 0.033], [2.403, 0.0345], [2.414, 0.0302], [2.424, 0.0323],
  [2.434, 0.0359], [2.454, 0.033], [2.464, 0.0373], [2.474, 0.0345], [2.484, 0.0302], [2.494, 0.0316], [2.504, 0.0302],
  [2.515, 0.0288], [2.535, 0.0302], [2.555, 0.0302], [2.565, 0.0281], [2.575, 0.033], [2.585, 0.0337], [2.595, 0.0274],
  [2.605, 0.0267], [2.616, 0.0302], [2.626, 0.0288], [2.636, 0.0316], [2.646, 0.0309], [2.656, 0.0327], [2.666, 0.0281],
  [2.676, 0.0288], [2.686, 0.0267], [2.696, 0.0302], [2.717, 0.0281], [2.737, 0.0238], [2.747, 0.0231], [2.757, 0.0238],
  [2.777, 0.0224], [2.797, 0.026], [2.818, 0.0267], [2.828, 0.0253], [2.838, 0.0231], [2.858, 0.0224], [2.878, 0.028],
  [2.888, 0.0267], [2.898, 0.0194], [2.92, 0.023], [2.94, 0.0218], [2.96, 0.0236], [2.98, 0.0225], [3.0, 0.0212],
  [3.02, 0.0177], [3.03, 0.0215], [3.05, 0.0208], [3.06, 0.0245], [3.08, 0.0229], [3.1, 0.0204], [3.12, 0.0213],
  [3.13, 0.019], [3.15, 0.0202], [3.17, 0.016], [3.18, 0.0195], [3.2, 0.0215], [3.22, 0.0146], [3.23, 0.0188],
  [3.25, 0.018], [3.27, 0.0197], [3.28, 0.0183], [3.3, 0.0175], [3.32, 0.019], [3.34, 0.0182], [3.36, 0.0139],
  [3.38, 0.0209], [3.39, 0.0172], [3.41, 0.0185], [3.43, 0.0168], [3.45, 0.0178], [3.46, 0.016], [3.48, 0.0195],
  [3.5, 0.0172], [3.52, 0.0158], [3.53, 0.0129], [3.55, 0.0165], [3.57, 0.0152], [3.59, 0.017], [3.61, 0.0118],
  [3.62, 0.016], [3.63, 0.0182], [3.65, 0.0148], [3.67, 0.0155], [3.69, 0.0142], [3.71, 0.016], [3.73, 0.0145],
  [3.74, 0.0138], [3.76, 0.0168], [3.78, 0.014], [3.8, 0.015], [3.82, 0.0132], [3.84, 0.0145], [3.86, 0.0155],
  [3.87, 0.0128], [3.89, 0.014], [3.91, 0.015], [3.93, 0.0132], [3.95, 0.0137], [3.97, 0.0126], [3.99, 0.014],
  [4.0, 0.0135], [4.02, 0.0122], [4.04, 0.0128], [4.06, 0.0119], [4.08, 0.0146], [4.1, 0.0124], [4.12, 0.0118],
  [4.14, 0.011], [4.15, 0.0096], [4.17, 0.0125], [4.19, 0.0117], [4.21, 0.0108], [4.23, 0.012], [4.25, 0.0112],
  [4.27, 0.0118], [4.29, 0.0105], [4.31, 0.0115], [4.33, 0.011], [4.35, 0.0102], [4.37, 0.0112], [4.39, 0.0106],
  [4.41, 0.0115], [4.43, 0.01], [4.45, 0.0109], [4.47, 0.0104], [4.49, 0.0112], [4.51, 0.0098], [4.53, 0.0106],
  [4.55, 0.0101], [4.57, 0.011], [4.59, 0.0096], [4.61, 0.0104], [4.63, 0.0099], [4.65, 0.0113], [4.67, 0.0094],
  [4.69, 0.0102], [4.71, 0.0097], [4.73, 0.01], [4.75, 0.0092], [4.77, 0.0096], [4.79, 0.0082], [4.8, 0.0068],
  [4.82, 0.009], [4.84, 0.0079], [4.86, 0.0088], [4.88, 0.0082], [4.9, 0.0106], [4.91, 0.0086], [4.93, 0.008],
  [4.95, 0.009], [4.96, 0.0084], [4.98, 0.0078], [5.0, 0.0092],
];
const heatMean: Pt[] = [
  [0.738, 0.1088], [0.768, 0.116], [0.818, 0.125], [0.835, 0.1258], [0.879, 0.1309], [0.919, 0.131], [0.98, 0.132],
  [1.0, 0.133], [1.01, 0.134], [1.031, 0.136], [1.061, 0.138], [1.091, 0.14], [1.115, 0.142], [1.132, 0.14],
  [1.162, 0.14], [1.192, 0.138], [1.222, 0.134], [1.252, 0.1309], [1.283, 0.127], [1.313, 0.123], [1.343, 0.118],
  [1.364, 0.1138], [1.404, 0.105], [1.444, 0.099], [1.485, 0.094], [1.525, 0.0883], [1.565, 0.084], [1.606, 0.0798],
  [1.646, 0.0762], [1.686, 0.0734], [1.727, 0.0713], [1.767, 0.0685], [1.807, 0.0656], [1.848, 0.063], [1.888, 0.0606],
  [1.928, 0.0582], [1.969, 0.0557], [2.009, 0.0528], [2.05, 0.0503], [2.09, 0.0479], [2.13, 0.0458], [2.17, 0.0437],
  [2.21, 0.0415], [2.25, 0.0401], [2.29, 0.0387], [2.37, 0.0362], [2.45, 0.0337], [2.53, 0.0319], [2.61, 0.0302],
  [2.69, 0.0288], [2.77, 0.027], [2.89, 0.0248], [3.0, 0.0224], [3.25, 0.0191], [3.5, 0.0167], [3.75, 0.0146],
  [4.0, 0.0129], [4.25, 0.0115], [4.5, 0.0104], [4.75, 0.0092], [5.0, 0.0085],
];
const heatMedian: Pt[] = [
  [0.738, 0.098], [0.75, 0.108], [0.76, 0.117], [0.775, 0.122], [0.795, 0.128], [0.809, 0.133], [0.835, 0.143],
  [0.869, 0.144], [0.889, 0.149], [0.899, 0.152], [0.915, 0.147], [0.93, 0.146], [1.0, 0.145], [1.081, 0.144],
  [1.122, 0.143], [1.162, 0.141], [1.192, 0.138], [1.213, 0.132], [1.233, 0.128], [1.253, 0.125], [1.263, 0.122],
  [1.283, 0.119], [1.313, 0.118], [1.333, 0.115], [1.343, 0.105], [1.374, 0.104], [1.404, 0.101], [1.424, 0.0996],
  [1.454, 0.098], [1.485, 0.0911], [1.505, 0.0868], [1.535, 0.086], [1.555, 0.0854], [1.565, 0.078], [1.585, 0.0755],
  [1.626, 0.0748], [1.656, 0.0744], [1.676, 0.072], [1.707, 0.0713], [1.727, 0.0685], [1.757, 0.0656], [1.787, 0.0635],
  [1.828, 0.0628], [1.868, 0.06], [1.898, 0.0571], [1.928, 0.0543], [1.969, 0.0514], [2.009, 0.05], [2.039, 0.0479],
  [2.079, 0.0465], [2.12, 0.0458], [2.16, 0.043], [2.19, 0.0408], [2.23, 0.0394], [2.29, 0.0387], [2.35, 0.0373],
  [2.41, 0.0358], [2.47, 0.0337], [2.53, 0.0323], [2.61, 0.0302], [2.69, 0.0287], [2.77, 0.0271], [2.89, 0.0247],
  [3.0, 0.0225], [3.25, 0.019], [3.5, 0.0166], [3.75, 0.0146], [4.0, 0.0128], [4.25, 0.0115], [4.5, 0.0104],
  [4.75, 0.0093], [5.0, 0.0085],
];

const SANS = "'Liberation Sans', Arial, Helvetica, sans-serif";
const SERIF = "'Liberation Serif', 'DejaVu Serif', serif";
const BLUE = '#0072BD';
const RED = '#D95319';
const YELLOW = '#EDB120';
const INK = '#262626';
const GRID = '#e0e0e0';

interface LegendBox {
  box: [number, number, number, number];
  rows: [number, number, number];
  lineX: [number, number];
  markerX: number;
  textX: number;
}

interface PanelProps {
  id: string;
  box: [number, number, number, number];
  yDomain: [number, number];
  yTicks: number[];
  raw: Pt[];
  mean?: Pt[];
  median?: Pt[];
  title: string;
  ylabel: string;
  ylabelX: number;
  tag: string;
  tagPos: [number, number];
  legend?: LegendBox;
  big?: boolean;
}

const fmt = (v: number) => String(+v.toFixed(2));

function Panel(p: PanelProps) {
  const [l, t, r, b] = p.box;
  const s = p.big
    ? { tick: 22, label: 24, title: 24, legend: 20, dot: 2.4, tickLen: 7.5, axis: 1.6, yPad: 10, xTickDy: 32, xLabelDy: 65, titleDy: 11, lw: 1.2 }
    : { tick: 12.7, label: 14, title: 14, legend: 12, dot: 1.35, tickLen: 4.3, axis: 1, yPad: 7, xTickDy: 20, xLabelDy: 39, titleDy: 7, lw: 1 };
  const x = d3.scaleLinear().domain([0.5, 5]).range([l, r]);
  const y = d3.scaleLinear().domain(p.yDomain).range([b, t]);
  const line = d3.line<Pt>().x(d => x(d[0])).y(d => y(d[1]));
  const clip = `clip-${p.id}`;
  const lg = p.legend;
  return (
    <g>
      <defs>
        <clipPath id={clip}>
          <rect x={l} y={t} width={r - l} height={b - t} />
        </clipPath>
      </defs>
      {tempTicks.slice(1, -1).map(v => (
        <line key={'gx' + v} x1={x(v)} x2={x(v)} y1={t} y2={b} stroke={GRID} strokeWidth={1} />
      ))}
      {p.yTicks.slice(1, -1).map(v => (
        <line key={'gy' + v} x1={l} x2={r} y1={y(v)} y2={y(v)} stroke={GRID} strokeWidth={1} />
      ))}
      <g fill={BLUE}>
        {p.raw.map((d, i) => (
          <circle key={i} cx={x(d[0])} cy={y(d[1])} r={s.dot} />
        ))}
      </g>
      <g clipPath={`url(#${clip})`} fill="none" strokeWidth={s.lw}>
        {p.mean && <path d={line(p.mean) || ''} stroke={RED} />}
        {p.median && <path d={line(p.median) || ''} stroke={YELLOW} />}
      </g>
      <rect x={l} y={t} width={r - l} height={b - t} fill="none" stroke={INK} strokeWidth={s.axis} />
      {tempTicks.map(v => (
        <g key={'tx' + v}>
          <line x1={x(v)} x2={x(v)} y1={b} y2={b - s.tickLen} stroke={INK} strokeWidth={s.axis} />
          <line x1={x(v)} x2={x(v)} y1={t} y2={t + s.tickLen} stroke={INK} strokeWidth={s.axis} />
          <text x={x(v)} y={b + s.xTickDy} textAnchor="middle" fontSize={s.tick} fill={INK}>{fmt(v)}</text>
        </g>
      ))}
      {p.yTicks.map(v => (
        <g key={'ty' + v}>
          <line x1={l} x2={l + s.tickLen} y1={y(v)} y2={y(v)} stroke={INK} strokeWidth={s.axis} />
          <line x1={r} x2={r - s.tickLen} y1={y(v)} y2={y(v)} stroke={INK} strokeWidth={s.axis} />
          <text x={l - s.yPad} y={y(v)} dy="0.35em" textAnchor="end" fontSize={s.tick} fill={INK}>{fmt(v)}</text>
        </g>
      ))}
      <text x={(l + r) / 2} y={b + s.xLabelDy} textAnchor="middle" fontSize={s.label} fill={INK}>kT / kTc</text>
      <text
        transform={`translate(${p.ylabelX},${(t + b) / 2}) rotate(-90)`}
        dy="0.35em"
        textAnchor="middle"
        fontSize={s.label}
        fill={INK}
      >
        {p.ylabel}
      </text>
      <text x={(l + r) / 2} y={t - s.titleDy} textAnchor="middle" fontSize={s.title} fontWeight="bold" fill="#000">
        {p.title}
      </text>
      <text x={p.tagPos[0]} y={p.tagPos[1]} textAnchor="middle" fontFamily={SERIF} fontSize={p.big ? 26 : 27} fill="#111">
        {p.tag}
      </text>
      {lg && (
        <g>
          <rect
            x={lg.box[0]}
            y={lg.box[1]}
            width={lg.box[2] - lg.box[0]}
            height={lg.box[3] - lg.box[1]}
            fill="#fff"
            stroke={INK}
            strokeWidth={p.big ? 1.2 : 1}
          />
          <circle cx={lg.markerX} cy={lg.rows[0]} r={s.dot} fill={BLUE} />
          <line x1={lg.lineX[0]} x2={lg.lineX[1]} y1={lg.rows[1]} y2={lg.rows[1]} stroke={RED} strokeWidth={s.lw} />
          <line x1={lg.lineX[0]} x2={lg.lineX[1]} y1={lg.rows[2]} y2={lg.rows[2]} stroke={YELLOW} strokeWidth={s.lw} />
          {legendLabels.map((txt, i) => (
            <text key={txt} x={lg.textX} y={lg.rows[i]} dy="0.35em" fontSize={s.legend} fill="#000">{txt}</text>
          ))}
        </g>
      )}
    </g>
  );
}

export default function App() {
  return (
    <svg
      width={1070}
      height={1672}
      style={{ position: 'absolute', left: 0, top: 0, background: '#fff' }}
      fontFamily={SANS}
    >
      <rect x={0} y={0} width={1070} height={1672} fill="#fff" />
      <Panel
        id="a"
        box={[56, 71, 490, 413]}
        yDomain={[0, 1]}
        yTicks={absMagTicks}
        raw={absMagRaw}
        mean={absMagMean}
        median={absMagMedian}
        title="Magnetização vs Temperatura"
        ylabel="|M|"
        ylabelX={20}
        tag="(a)"
        tagPos={[251, 32]}
        legend={{ box: [314, 82, 479, 135], rows: [93, 109, 126], lineX: [318, 357], markerX: 338, textX: 361 }}
      />
      <Panel
        id="b"
        box={[629, 70, 1062, 413]}
        yDomain={[-1, 1]}
        yTicks={magTicks}
        raw={magRaw}
        title="Magnetização vs Temperatura"
        ylabel="M"
        ylabelX={586}
        tag="(b)"
        tagPos={[834, 32]}
      />
      <Panel
        id="c"
        box={[57, 529, 498, 877]}
        yDomain={[-1.2, 0.2]}
        yTicks={energyTicks}
        raw={energyRaw}
        mean={energyMean}
        median={energyMedian}
        title="Energia média por spin vs Temperatura"
        ylabel="<E>/N"
        ylabelX={17}
        tag="(c)"
        tagPos={[286, 493]}
        legend={{ box: [69, 540, 238, 594], rows: [551, 568, 584], lineX: [73, 113], markerX: 93, textX: 117 }}
      />
      <Panel
        id="d"
        box={[625, 531, 1063, 877]}
        yDomain={[-4.5, 0]}
        yTicks={suscTicks}
        raw={suscRaw}
        mean={suscMean}
        median={suscMedian}
        title="susceptibilidade por spin vs Temperatura"
        ylabel="X/N"
        ylabelX={584}
        tag="(d)"
        tagPos={[832, 493]}
        legend={{ box: [637, 542, 804, 595], rows: [553, 569, 586], lineX: [641, 681], markerX: 661, textX: 684 }}
      />
      <Panel
        id="e"
        big
        box={[234, 1013, 977, 1601]}
        yDomain={[0, 0.25]}
        yTicks={heatTicks}
        raw={heatRaw}
        mean={heatMean}
        median={heatMedian}
        title="calor específico vs Temperatura"
        ylabel="Cv/NkB"
        ylabelX={157}
        tag="(e)"
        tagPos={[588, 956]}
        legend={{ box: [253, 1033, 537, 1123], rows: [1050, 1080, 1108], lineX: [260, 328], markerX: 294, textX: 334 }}
      />
    </svg>
  );
}
